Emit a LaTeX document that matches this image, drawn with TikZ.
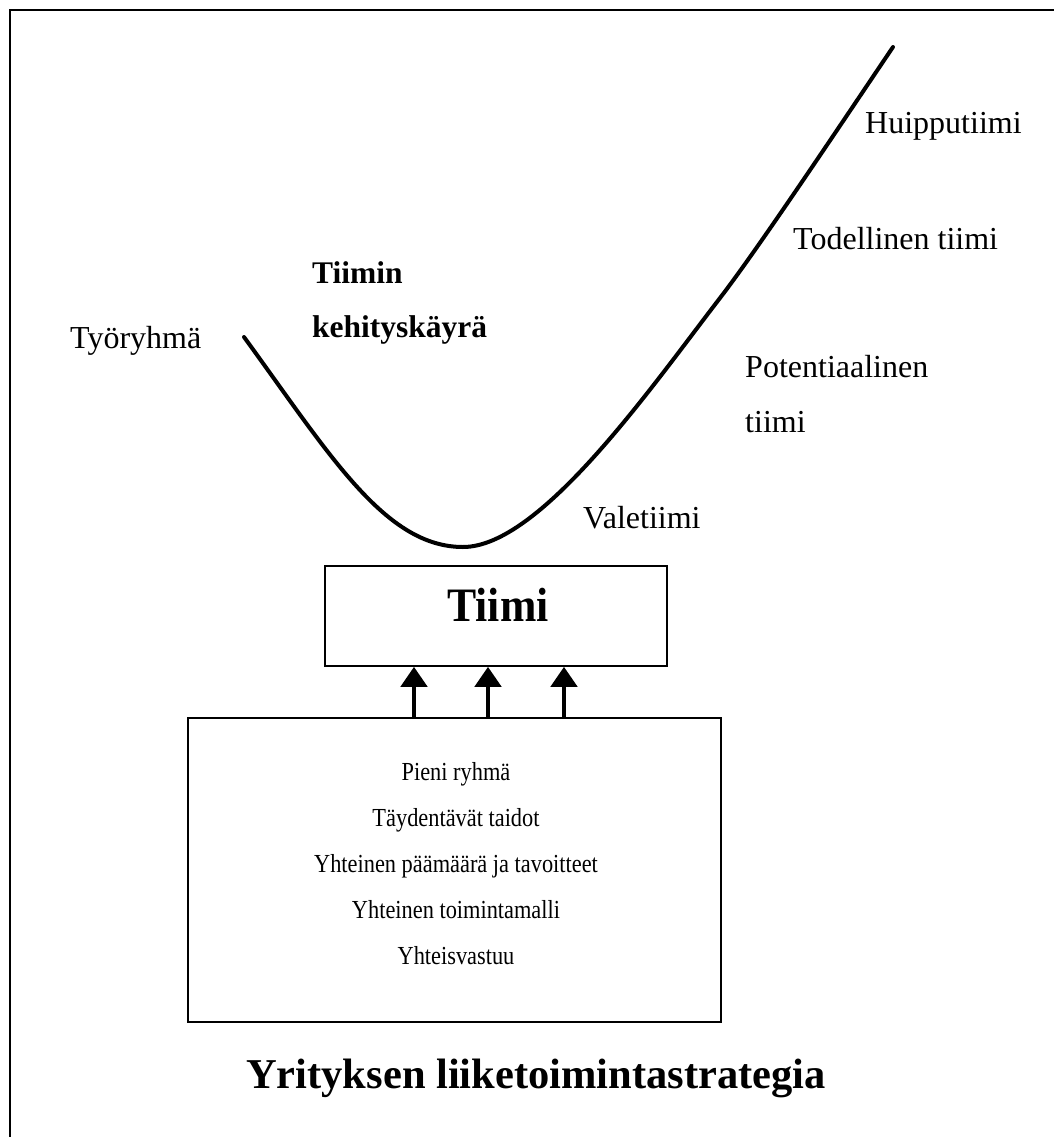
\documentclass[tikz,border=0pt]{standalone}
\usepackage{fontspec}
\setmainfont{Liberation Serif}
\usetikzlibrary{arrows.meta}
\begin{document}
\begin{tikzpicture}[x=1pt,y=-1pt,
  lbl/.style={anchor=base west,inner sep=0pt,font=\fontsize{32}{38}\selectfont},
  blbl/.style={anchor=base west,inner sep=0pt,font=\fontsize{31.5}{36}\selectfont\bfseries},
  item/.style={anchor=base,inner sep=0pt,font=\fontsize{26}{30}\selectfont},
  box/.style={draw,line width=1.6pt,rectangle,inner sep=0pt},
  uparrow/.style={line width=4.6pt,-{Triangle[width=26pt,length=20pt]}},
  curve/.style={line width=4pt,line cap=round,line join=round}]
\useasboundingbox (0,0) rectangle (1054,1137);
% frame
\coordinate (ftl) at (10,10);
\coordinate (ftr) at (1054,10);
\coordinate (fbl) at (10,1137);
\draw[line width=2pt] (ftr) -- (ftl) -- (fbl);
% curve
\coordinate (c0) at (244,337);
\coordinate (c1) at (463,547);
\coordinate (c2) at (720,298);
\coordinate (c3) at (893,47);
\draw[curve] (c0) .. controls (330,455) and (385,547) .. (c1)
  .. controls (540,547) and (650,389) .. (c2)
  .. controls (760,246) and (845,118) .. (c3);
% labels
\node[lbl] (tyo) at (70,348) {Työryhmä};
\node[blbl] (t1) at (312,283) {Tiimin};
\node[blbl] (t2) at (312,337) {kehityskäyrä};
\node[lbl] (huippu) at (865,133) {Huipputiimi};
\node[lbl] (todel) at (793,249) {Todellinen tiimi};
\node[lbl] (pot1) at (745,377) {Potentiaalinen};
\node[lbl] (pot2) at (745,432) {tiimi};
\node[lbl] (vale) at (583,528) {Valetiimi};
% Tiimi box
\node[box,minimum width=342pt,minimum height=100pt] (tiimi) at (496,616) {};
\node[anchor=base,inner sep=0pt,font=\fontsize{48}{52}\selectfont\bfseries] (tiimitxt) at (498,621) {\scalebox{0.91}[1]{Tiimi}};
% lower box
\node[box,minimum width=533pt,minimum height=304pt] (lower) at (454.5,870) {};
\node[item] (i1) at (456,780) {\scalebox{0.86}[1]{Pieni ryhmä}};
\node[item] (i2) at (456,826) {\scalebox{0.86}[1]{Täydentävät taidot}};
\node[item] (i3) at (456,872) {\scalebox{0.86}[1]{Yhteinen päämäärä ja tavoitteet}};
\node[item] (i4) at (456,918) {\scalebox{0.86}[1]{Yhteinen toimintamalli}};
\node[item] (i5) at (456,964) {\scalebox{0.86}[1]{Yhteisvastuu}};
% arrows
\foreach \ax in {414,488,564}{
  \draw[uparrow] (lower.north -| \ax,0) -- (tiimi.south -| \ax,0);
}
% bottom title
\node[anchor=base,inner sep=0pt,font=\fontsize{42.5}{48}\selectfont\bfseries] (strat) at (536,1088) {Yrityksen liiketoimintastrategia};
\end{tikzpicture}
\end{document}
